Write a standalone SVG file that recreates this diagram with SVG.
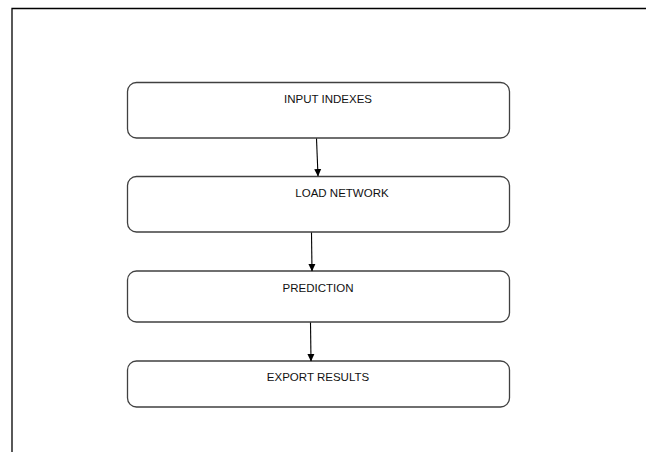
<svg xmlns="http://www.w3.org/2000/svg" width="647" height="452" viewBox="0 0 647 452">
<style>
.box{fill:#fff;stroke:#404040;stroke-width:1.3}
.lbl{font-family:"Liberation Sans",Arial,sans-serif;font-size:11.5px;fill:#111;text-anchor:middle}
.con{stroke:#000;stroke-width:1.1;fill:none}
</style>
<defs>
<marker id="ah" markerWidth="8" markerHeight="8" refX="7" refY="4" orient="auto" markerUnits="userSpaceOnUse">
<path d="M0,0.5 L7.5,4 L0,7.5 Z" fill="#000"/>
</marker>
</defs>
<rect width="647" height="452" fill="#fff"/>
<path d="M12,452 L12,8.5 L646,8.5" fill="none" stroke="#000" stroke-width="1.3"/>
<g id="n1"><rect class="box" x="127.5" y="82.5" width="382" height="55.5" rx="9"/><text class="lbl" x="328" y="103">INPUT INDEXES</text></g>
<g id="n2"><rect class="box" x="127.5" y="176.5" width="382" height="55.5" rx="9"/><text class="lbl" x="342" y="197">LOAD NETWORK</text></g>
<g id="n3"><rect class="box" x="127.5" y="271" width="382" height="51" rx="9"/><text class="lbl" x="318" y="292">PREDICTION</text></g>
<g id="n4"><rect class="box" x="127.5" y="361" width="382" height="46" rx="9"/><text class="lbl" x="318" y="381">EXPORT RESULTS</text></g>
<g id="connectors">
<line class="con" x1="316.5" y1="138.5" x2="318" y2="176" marker-end="url(#ah)"/>
<line class="con" x1="311.5" y1="232.5" x2="312" y2="271" marker-end="url(#ah)"/>
<line class="con" x1="310.5" y1="322.5" x2="311" y2="361" marker-end="url(#ah)"/>
</g>
</svg>
